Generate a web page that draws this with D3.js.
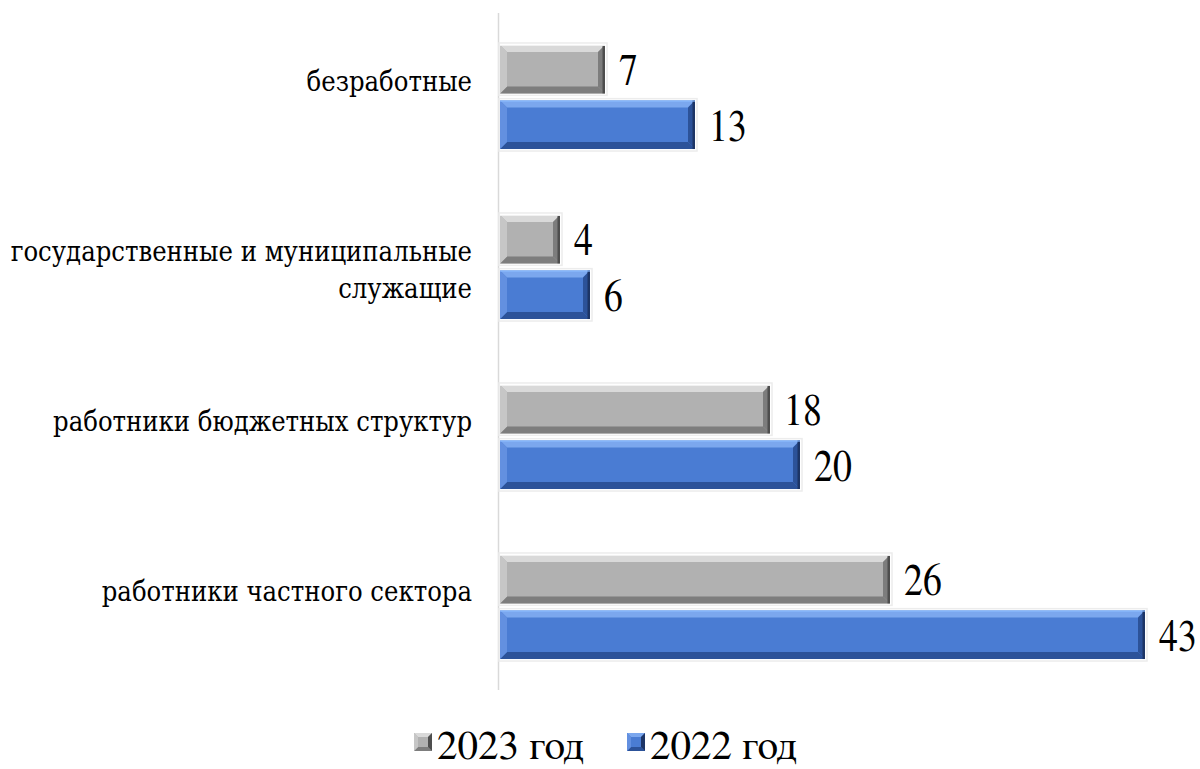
<!DOCTYPE html>
<html><head><meta charset="utf-8">
<script src="https://cdn.jsdelivr.net/npm/d3@7"></script>
<style>
html,body{margin:0;padding:0;background:#fff;}
svg{display:block;}
</style></head>
<body>
<script>
const categories = [
  ["безработные"],
  ["государственные и муниципальные", "служащие"],
  ["работники бюджетных структур"],
  ["работники частного сектора"]
];
const seriesNames = ["2023 год", "2022 год"];
const values2023 = [7, 4, 18, 26];
const values2022 = [13, 6, 20, 43];

const FONT = "FreeSerif, 'DejaVu Serif', serif";
const LABEL_FONT = "'DejaVu Serif', FreeSerif, serif";
const W = 1200, H = 769;
const svg = d3.select("body").append("svg").attr("width", W).attr("height", H);

const palettes = {
  "2023 год": {main:"#b1b1b1", top:"#d9d9d9", left:"#c6c6c6", bottom:"#7d7d7d", right:"#4e4e4e"},
  "2022 год": {main:"#4a7cd3", top:"#7ba7ee", left:"#6390e0", bottom:"#2c5299", right:"#1d3566"}
};

const catKeys = categories.map((c,i)=>"c"+i);
const x = d3.scaleLinear().domain([0, 43]).range([500, 1145]);
const y = d3.scaleBand().domain(catKeys).range([12, 692]).paddingInner(0.388).paddingOuter(0.194);
const yInner = d3.scaleBand().domain(seriesNames).range([0, y.bandwidth()]).paddingInner(0.13);

svg.append("line").attr("x1", 498.5).attr("x2", 498.5).attr("y1", 13).attr("y2", 690)
  .attr("stroke", "#d9d9d9").attr("stroke-width", 1.5);

const data = [];
catKeys.forEach((k,i)=>{
  data.push({cat:k, s:seriesNames[0], v:values2023[i]});
  data.push({cat:k, s:seriesNames[1], v:values2022[i]});
});

function bevelBar(g, x0, x1, y0, y1, p){
  const b = 7;
  g.append("rect").attr("x", x0-1).attr("y", y0-2).attr("width", x1-x0+3).attr("height", y1-y0+4)
    .attr("fill", "none").attr("stroke", "#ececec").attr("stroke-width", 1.5);
  g.append("rect").attr("x", x0).attr("y", y0).attr("width", x1-x0).attr("height", y1-y0).attr("fill", p.main);
  const bb = Math.min(b, (x1-x0)/2);
  const poly = pts => g.append("polygon").attr("points", pts.map(q=>q.join(",")).join(" "));
  poly([[x0,y0],[x1,y0],[x1-bb,y0+b],[x0+bb,y0+b]]).attr("fill", p.top);
  poly([[x0,y1],[x1,y1],[x1-bb,y1-b],[x0+bb,y1-b]]).attr("fill", p.bottom);
  poly([[x0,y0],[x0+bb,y0+b],[x0+bb,y1-b],[x0,y1]]).attr("fill", p.left);
  poly([[x1,y0],[x1-bb,y0+b],[x1-bb,y1-b],[x1,y1]]).attr("fill", p.bottom);
  g.append("rect").attr("x", x1-2.5).attr("y", y0).attr("width", 2.5).attr("height", y1-y0).attr("fill", p.right);
  g.append("line").attr("x1", x0).attr("x2", x1).attr("y1", y0+0.5).attr("y2", y0+0.5)
    .attr("stroke", d3.color(p.top).brighter(0.3)).attr("stroke-width", 1);
}

const bars = svg.append("g");
data.forEach(d=>{
  const g = bars.append("g");
  const y0 = y(d.cat) + yInner(d.s);
  const y1 = y0 + yInner.bandwidth();
  bevelBar(g, x(0), x(d.v), y0, y1, palettes[d.s]);
  const cy = (y0+y1)/2;
  svg.append("text")
    .attr("transform", `translate(${x(d.v)+14},${cy+16}) scale(0.84,1)`)
    .style("font-family", FONT)
    .attr("font-size", 45)
    .attr("fill", "#000")
    .text(d.v);
});

// category labels (DejaVu Serif, horizontally condensed to fit the reference width)
const labelG = svg.append("g");
const texts = [];
catKeys.forEach((k,i)=>{
  const cy = y(k) + y.bandwidth()/2;
  categories[i].forEach((line, j)=>{
    const t = labelG.append("text").attr("text-anchor", "end").attr("font-size", 27)
      .style("font-family", LABEL_FONT).attr("fill", "#000").text(line);
    texts.push({t, yy: cy - 6 + j*37, line});
  });
});
// fit: longest single-line label spans ~419px in the reference
const ref = texts.find(o=>o.line === "работники бюджетных структур");
const natural = ref.t.node().getComputedTextLength();
const sx = natural > 0 ? 419 / natural : 1;
texts.forEach(o=>{
  o.t.attr("transform", `translate(472,${o.yy}) scale(${sx},1)`);
});

const legend = svg.append("g");
const legendX = [414, 627];
seriesNames.forEach((s,i)=>{
  const p = palettes[s];
  const lx = legendX[i], ly = 733, sz = 18;
  const g = legend.append("g");
  g.append("rect").attr("x", lx).attr("y", ly).attr("width", sz).attr("height", sz).attr("fill", p.main);
  const b = 4;
  const poly = pts => g.append("polygon").attr("points", pts.map(q=>q.join(",")).join(" "));
  poly([[lx,ly],[lx+sz,ly],[lx+sz-b,ly+b],[lx+b,ly+b]]).attr("fill", p.top);
  poly([[lx,ly+sz],[lx+sz,ly+sz],[lx+sz-b,ly+sz-b],[lx+b,ly+sz-b]]).attr("fill", p.bottom);
  poly([[lx,ly],[lx+b,ly+b],[lx+b,ly+sz-b],[lx,ly+sz]]).attr("fill", p.left);
  poly([[lx+sz,ly],[lx+sz-b,ly+b],[lx+sz-b,ly+sz-b],[lx+sz,ly+sz]]).attr("fill", p.right);
  legend.append("text").attr("x", lx+23).attr("y", 759).attr("font-size", 41)
    .style("font-family", FONT).attr("fill", "#000").text(s);
});
</script>
</body></html>
